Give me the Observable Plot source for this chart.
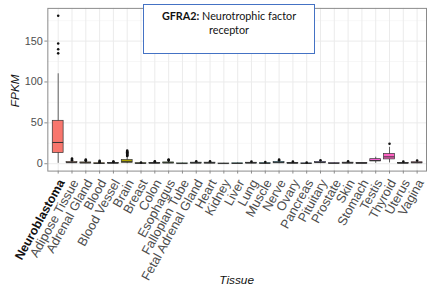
<!DOCTYPE html>
<html><head><meta charset="utf-8">
<script src="https://cdn.jsdelivr.net/npm/d3@7"></script>
<script src="https://cdn.jsdelivr.net/npm/@observablehq/plot@0.6"></script>
<style>
body{margin:0;overflow:hidden;background:#fff;font-family:"Liberation Sans",Arial,sans-serif;}
#wrap{position:relative;width:427px;height:300px;overflow:hidden;}
#title{position:absolute;left:143px;top:4px;width:172px;height:50px;box-sizing:border-box;border:1.5px solid #4472C4;background:#fff;font-family:Lato,"Open Sans",sans-serif;font-size:10.8px;color:#111;text-align:center;line-height:14px;padding-top:4px;}
</style></head>
<body><div id="wrap"><div id="title"><b>GFRA2:</b> Neurotrophic factor<br>receptor</div></div>
<script>
const tissues = ["Neuroblastoma","Adipose Tissue","Adrenal Gland","Blood","Blood Vessel","Brain","Breast","Colon","Esophagus","Fallopian Tube","Fetal Adrenal Gland","Heart","Kidney","Liver","Lung","Muscle","Nerve","Ovary","Pancreas","Pituitary","Prostate","Skin","Stomach","Testis","Thyroid","Uterus","Vagina"];
const lower  = [0.5, 0, 0, 0, 0, 0, 0, 0, 0, 0, 0, 0, 0, 0, 0, 0, 0, 0, 0, 0, 0, 0, 0, 0.5, 1, 0, 0];
const q1     = [13, 0.8, 0.5, 0.1, 0.3, 1.2, 0.2, 0.3, 0.5, 0.1, 0.4, 0.4, 0.1, 0.1, 0.4, 0.2, 0.7, 0.3, 0.1, 0.8, 0.2, 0.4, 0.2, 2.8, 5.3, 0.3, 0.6];
const median = [26, 1.3, 1, 0.3, 0.6, 2.5, 0.4, 0.6, 1, 0.2, 0.8, 0.8, 0.2, 0.3, 0.8, 0.4, 1.3, 0.6, 0.3, 1.4, 0.4, 0.8, 0.5, 4, 8.4, 0.6, 1.2];
const q3     = [52.5, 2, 1.6, 0.6, 1, 4.5, 0.7, 1, 1.6, 0.4, 1.3, 1.3, 0.3, 0.5, 1.2, 0.7, 2, 1, 0.5, 2.2, 0.7, 1.3, 0.8, 5.6, 12, 1, 1.8];
const upper  = [110, 3.5, 3, 1.3, 2, 9, 1.4, 2, 3.2, 0.8, 2.5, 2.5, 0.6, 1, 2.2, 1.4, 3.6, 2, 1, 3.8, 1.3, 2.5, 1.5, 8, 20, 2, 3.2];
const outlierTissue = ["Neuroblastoma","Neuroblastoma","Neuroblastoma","Neuroblastoma",
  "Adipose Tissue","Adipose Tissue","Adipose Tissue","Adrenal Gland","Adrenal Gland","Adrenal Gland",
  "Blood","Blood","Blood","Blood Vessel","Blood Vessel",
  "Brain","Brain","Brain","Brain","Brain","Brain","Brain","Brain","Brain",
  "Breast","Colon","Colon","Esophagus","Esophagus","Esophagus","Fetal Adrenal Gland","Heart",
  "Lung","Muscle","Nerve","Nerve","Ovary","Pancreas","Pituitary","Skin","Thyroid","Uterus","Vagina"];
const outlierValue = [135, 140, 147, 181,
  4.2, 5, 6.5, 3.5, 4.2, 5,
  1.8, 2.5, 3.5, 2.3, 2.8,
  9.5, 10.2, 11, 11.8, 12.5, 13.3, 14, 15, 16,
  1.6, 2.4, 3, 3.8, 4.5, 5.2, 3, 3,
  2.8, 2, 4.2, 5, 2.6, 1.6, 4.3, 3, 24.5, 2.6, 4];
const yTicks = [0, 50, 100, 150];
const yMinor = [25, 75, 125, 175];

// ggplot2 default hue palette (polar LUV, l=65, c=100)
function hclLuv(h, c, l) {
  const hr = h * Math.PI / 180, u = c * Math.cos(hr), v = c * Math.sin(hr);
  const Xn = 0.95047, Yn = 1, Zn = 1.08883;
  const den = Xn + 15 * Yn + 3 * Zn, un = 4 * Xn / den, vn = 9 * Yn / den;
  const Y = Yn * Math.pow((l + 16) / 116, 3);
  const up = u / (13 * l) + un, vp = v / (13 * l) + vn;
  const X = Y * 9 * up / (4 * vp), Z = Y * (12 - 3 * up - 20 * vp) / (4 * vp);
  const lin = [3.2404542*X - 1.5371385*Y - 0.4985314*Z, -0.9692660*X + 1.8760108*Y + 0.0415560*Z, 0.0556434*X - 0.2040259*Y + 1.0572252*Z];
  const g = lin.map(t => { t = t <= 0.0031308 ? 12.92 * t : 1.055 * Math.pow(t, 1/2.4) - 0.055; return Math.round(255 * Math.max(0, Math.min(1, t))); });
  return `rgb(${g[0]},${g[1]},${g[2]})`;
}
const palette = tissues.map((t, i) => hclLuv(15 + i * 360 / tissues.length, 100, 65));

const boxes = tissues.map((t, i) => ({tissue: t, lo: lower[i], q1: q1[i], med: median[i], q3: q3[i], hi: upper[i]}));
const outliers = outlierTissue.map((t, i) => ({tissue: t, value: outlierValue[i]}));

const plot = Plot.plot({
  width: 433, height: 300,
  marginLeft: 48, marginRight: 1, marginTop: 8, marginBottom: 127,
  style: {fontFamily: "'Liberation Sans', Arial, sans-serif", background: "transparent", overflow: "visible", color: "#4d4d4d"},
  x: {type: "band", domain: tissues, paddingInner: 0.25, paddingOuter: 0.225, label: null},
  y: {domain: [-9, 190], label: null},
  color: {type: "ordinal", domain: tissues, range: palette},
  marks: [
    Plot.gridY(yMinor, {stroke: "#f2f2f2", strokeOpacity: 1, strokeWidth: 0.6}),
    Plot.gridY(yTicks, {stroke: "#ebebeb", strokeOpacity: 1, strokeWidth: 1}),
    Plot.gridX(tissues, {stroke: "#ebebeb", strokeOpacity: 1, strokeWidth: 1}),
    Plot.ruleX(boxes, {x: "tissue", y1: "lo", y2: "hi", stroke: "#4d4d4d", strokeWidth: 0.9}),
    Plot.barY(boxes, {x: "tissue", y1: "q1", y2: "q3", fill: "tissue", stroke: "#333", strokeWidth: 0.7}),
    Plot.tickY(boxes, {x: "tissue", y: "med", stroke: "#333", strokeWidth: 1}),
    Plot.dot(outliers, {x: "tissue", y: "value", r: 1.3, fill: "#111", stroke: null}),
    Plot.frame({stroke: "#8a8a8a", strokeWidth: 1}),
    Plot.axisY({ticks: yTicks, tickSize: 3, tickPadding: 2, fontSize: 11, fill: "#4d4d4d", stroke: "#8a8a8a", label: null}),
    Plot.axisX({tickSize: 3, tickFormat: () => "", stroke: "#8a8a8a", label: null}),
    Plot.axisX({tickSize: 0, tickPadding: 7, dx: 3.5, dy: 2.5, tickRotate: -61, fontSize: 13, fill: "#4d4d4d", label: null})
  ]
});
document.getElementById("wrap").insertBefore(plot, document.getElementById("title"));
plot.style.position = "absolute"; plot.style.left = "0px"; plot.style.top = "0px";

const svg = d3.select(plot);
svg.selectAll("text").filter(function() { return this.textContent === "Neuroblastoma"; })
  .attr("font-weight", "bold").attr("font-size", 12.5).attr("fill", "#111");
svg.append("text").attr("x", 240).attr("y", 288).attr("text-anchor", "middle")
  .attr("font-size", 12).attr("font-style", "italic").attr("fill", "#111").text("Tissue");
svg.append("text").attr("transform", "translate(19,92) rotate(-90)").attr("text-anchor", "middle")
  .attr("font-size", 12).attr("font-style", "italic").attr("fill", "#111").text("FPKM");
</script></body></html>
